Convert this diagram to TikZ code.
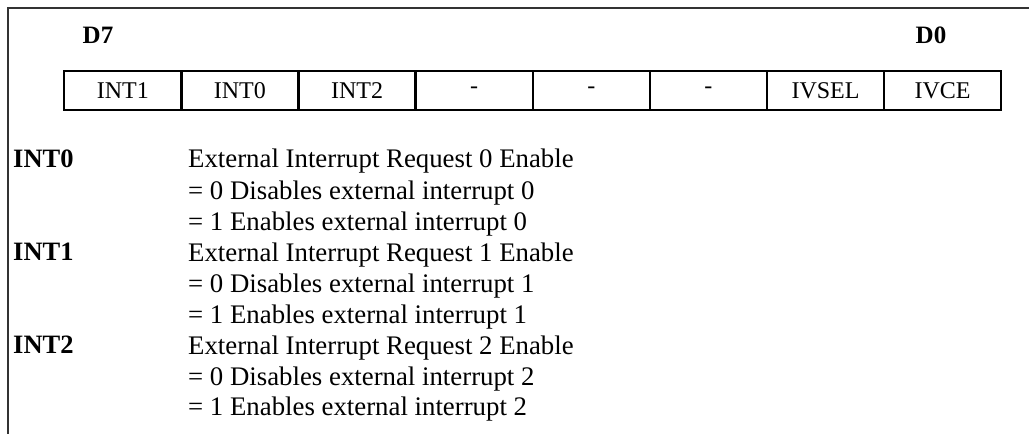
\documentclass[tikz,border=0pt]{standalone}
\usepackage{fontspec}
\setmainfont{Liberation Serif}
\begin{document}
\begin{tikzpicture}[x=1pt,y=-1pt,
  frameline/.style={line width=1.8pt,draw=black!80},
  cellbox/.style={draw,line width=2.4pt,minimum width=117.125pt,minimum height=39pt,inner sep=0pt,anchor=north west,font=\fontsize{24}{28}\selectfont},
  bitlabel/.style={anchor=base,font=\fontsize{25}{29}\selectfont\bfseries},
  namelabel/.style={anchor=base west,inner sep=0pt,font=\fontsize{26.5}{31}\selectfont\bfseries},
  desc/.style={anchor=base west,inner sep=0pt,font=\fontsize{26.8}{31}\selectfont}]
\useasboundingbox (0,0) rectangle (1029,434);
% frame (top and left only)
\coordinate (fbl) at (8,434);
\coordinate (ftl) at (8,8);
\coordinate (ftr) at (1029,8);
\draw[frameline] (fbl) -- (ftl) -- (ftr);
% bit labels
\node[bitlabel] (d7) at (98,43) {D7};
\node[bitlabel] (d0) at (931,43) {D0};
% register cells
\foreach \i/\t in {0/INT1,1/INT0,2/INT2,3/-,4/-,5/-,6/IVSEL,7/IVCE}{
  \node[cellbox] (c\i) at ({63+117.125*\i},70) {\t};
}
% names
\node[namelabel] (n0) at (13,167) {INT0};
\node[namelabel] (n1) at (13,260) {INT1};
\node[namelabel] (n2) at (13,353) {INT2};
% descriptions
\node[desc] (l1) at (188,167) {External Interrupt Request 0 Enable};
\node[desc] (l2) at (188,199) {= 0 Disables external interrupt 0};
\node[desc] (l3) at (188,230) {= 1 Enables external interrupt 0};
\node[desc] (l4) at (188,261) {External Interrupt Request 1 Enable};
\node[desc] (l5) at (188,292) {= 0 Disables external interrupt 1};
\node[desc] (l6) at (188,323) {= 1 Enables external interrupt 1};
\node[desc] (l7) at (188,354) {External Interrupt Request 2 Enable};
\node[desc] (l8) at (188,385) {= 0 Disables external interrupt 2};
\node[desc] (l9) at (188,415) {= 1 Enables external interrupt 2};
\end{tikzpicture}
\end{document}
